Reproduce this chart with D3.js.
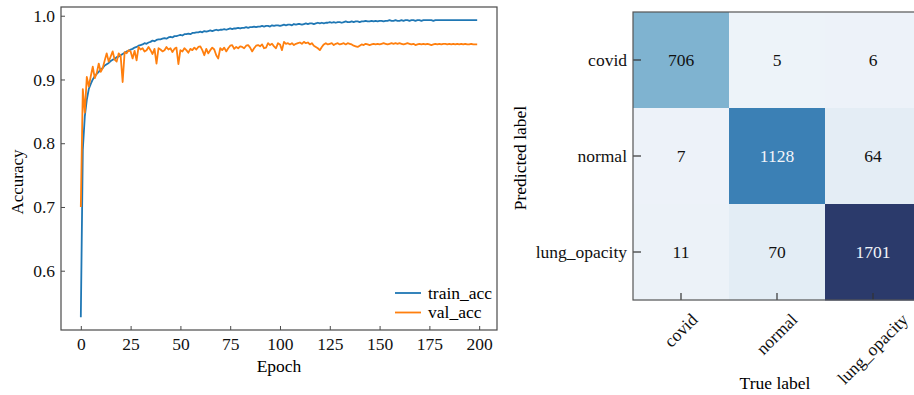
<!DOCTYPE html>
<html>
<head>
<meta charset="utf-8">
<script src="https://cdn.jsdelivr.net/npm/d3@7"></script>
<style>
  body { margin: 0; background: #fff; }
  svg { display: block; font-family: "Liberation Serif", "DejaVu Serif", serif; }
</style>
</head>
<body>
<div id="wrapper"></div>
<script>
// training history (epochs 0..199)
const trainAcc = [
  0.527, 0.790, 0.842, 0.868, 0.885, 0.893, 0.900, 0.905, 0.909, 0.912,
  0.916, 0.918, 0.922, 0.924, 0.926, 0.929, 0.931, 0.932, 0.935, 0.936,
  0.938, 0.940, 0.942, 0.944, 0.945, 0.947, 0.948, 0.950, 0.951, 0.953,
  0.954, 0.955, 0.957, 0.956, 0.958, 0.959, 0.961, 0.960, 0.962, 0.963,
  0.963, 0.964, 0.965, 0.964, 0.966, 0.967, 0.966, 0.968, 0.968, 0.969,
  0.970, 0.969, 0.971, 0.971, 0.972, 0.971, 0.973, 0.973, 0.974, 0.974,
  0.975, 0.974, 0.976, 0.975, 0.976, 0.977, 0.976, 0.977, 0.978, 0.977,
  0.978, 0.978, 0.979, 0.978, 0.979, 0.980, 0.979, 0.980, 0.980, 0.981,
  0.980, 0.981, 0.981, 0.982, 0.981, 0.982, 0.982, 0.983, 0.982, 0.983,
  0.983, 0.984, 0.983, 0.984, 0.984, 0.983, 0.985, 0.984, 0.985, 0.985,
  0.984, 0.985, 0.986, 0.985, 0.986, 0.986, 0.985, 0.987, 0.986, 0.987,
  0.987, 0.986, 0.987, 0.988, 0.987, 0.988, 0.988, 0.987, 0.988, 0.989,
  0.988, 0.989, 0.988, 0.989, 0.989, 0.990, 0.989, 0.990, 0.989, 0.990,
  0.990, 0.989, 0.990, 0.991, 0.990, 0.990, 0.991, 0.990, 0.991, 0.991,
  0.990, 0.991, 0.991, 0.992, 0.991, 0.991, 0.992, 0.991, 0.992, 0.991,
  0.992, 0.992, 0.991, 0.992, 0.992, 0.993, 0.992, 0.992, 0.993, 0.992,
  0.992, 0.993, 0.992, 0.993, 0.993, 0.992, 0.993, 0.993, 0.992, 0.993,
  0.993, 0.992, 0.993, 0.993, 0.993, 0.993, 0.993, 0.992, 0.993, 0.993,
  0.993, 0.993, 0.993, 0.993, 0.993, 0.993, 0.993, 0.993, 0.993, 0.993,
  0.993, 0.993, 0.993, 0.993, 0.993, 0.993, 0.993, 0.993, 0.993, 0.993,
];
const valAcc = [
  0.700, 0.885, 0.848, 0.904, 0.889, 0.905, 0.920, 0.902, 0.910, 0.925,
  0.912, 0.918, 0.930, 0.941, 0.928, 0.936, 0.944, 0.931, 0.928, 0.941,
  0.937, 0.896, 0.943, 0.941, 0.946, 0.944, 0.933, 0.945, 0.930, 0.951,
  0.947, 0.949, 0.944, 0.946, 0.951, 0.946, 0.940, 0.948, 0.925, 0.949,
  0.947, 0.944, 0.946, 0.951, 0.947, 0.949, 0.943, 0.948, 0.950, 0.924,
  0.946, 0.944, 0.949, 0.946, 0.942, 0.948, 0.946, 0.950, 0.947, 0.951,
  0.952, 0.946, 0.938, 0.948, 0.941, 0.946, 0.950, 0.947, 0.938, 0.933,
  0.949, 0.946, 0.950, 0.944, 0.949, 0.953, 0.954, 0.948, 0.951, 0.949,
  0.952, 0.951, 0.949, 0.953, 0.954, 0.950, 0.944, 0.949, 0.953, 0.954,
  0.952, 0.955, 0.949, 0.950, 0.957, 0.954, 0.956, 0.952, 0.949, 0.957,
  0.955, 0.946, 0.959, 0.956, 0.957, 0.955, 0.957, 0.954, 0.956, 0.957,
  0.958, 0.956, 0.959, 0.957, 0.958, 0.955, 0.957, 0.953, 0.951, 0.949,
  0.946, 0.951, 0.955, 0.957, 0.955, 0.956, 0.957, 0.954, 0.956, 0.957,
  0.955, 0.956, 0.957, 0.955, 0.957, 0.956, 0.955, 0.953, 0.952, 0.951,
  0.953, 0.955, 0.954, 0.956, 0.955, 0.954, 0.955, 0.956, 0.955, 0.956,
  0.955, 0.956, 0.957, 0.956, 0.955, 0.956, 0.957, 0.956, 0.957, 0.956,
  0.957, 0.956, 0.955, 0.956, 0.957, 0.956, 0.955, 0.956, 0.954, 0.955,
  0.956, 0.955, 0.956, 0.955, 0.956, 0.955, 0.954, 0.955, 0.956, 0.955,
  0.956, 0.955, 0.956, 0.956, 0.955, 0.956, 0.955, 0.956, 0.955, 0.956,
  0.955, 0.956, 0.955, 0.956, 0.955, 0.955, 0.956, 0.955, 0.955, 0.955,
];
const epochTicks = [0, 25, 50, 75, 100, 125, 150, 175, 200];
const accTicks = [0.6, 0.7, 0.8, 0.9, 1.0];
const seriesNames = ["train_acc", "val_acc"];

// confusion matrix: rows = predicted, columns = true
const classNames = ["covid", "normal", "lung_opacity"];
const matrixRows = [
  [706, 5, 6],
  [7, 1128, 64],
  [11, 70, 1701],
];

const fontSize = 17.5;
const spineColor = "#4a4a4a";
const colors = ["#1f77b4", "#ff7f0e"];

const svg = d3.select("#wrapper").append("svg")
  .attr("width", 914)
  .attr("height", 395);

// ---------- left: accuracy curves ----------
const left = { x: 61, y: 7, w: 436, h: 323 };
const g1 = svg.append("g").attr("transform", `translate(${left.x},${left.y})`);

const xScale = d3.scaleLinear().domain([-9.95, 208.95]).range([0, left.w]);
const yScale = d3.scaleLinear().domain([0.507, 1.0137]).range([left.h, 0]);

const line = d3.line()
  .x((d, i) => xScale(i))
  .y((d) => yScale(d));

[trainAcc, valAcc].forEach((s, k) => {
  g1.append("path")
    .datum(s)
    .attr("fill", "none")
    .attr("stroke", colors[k])
    .attr("stroke-width", 1.8)
    .attr("stroke-linejoin", "round")
    .attr("d", line);
});

const xAxis = g1.append("g")
  .attr("transform", `translate(0,${left.h})`)
  .call(d3.axisBottom(xScale).tickValues(epochTicks).tickSizeInner(-4).tickSizeOuter(0).tickPadding(8));
const yAxis = g1.append("g")
  .call(d3.axisLeft(yScale).tickValues(accTicks).tickFormat(d3.format(".1f"))
    .tickSizeInner(-4).tickSizeOuter(0).tickPadding(6));

[xAxis, yAxis].forEach((a) => {
  a.select(".domain").remove();
  a.selectAll("line").attr("stroke", spineColor);
  a.selectAll("text")
    .attr("fill", "#111")
    .style("font-family", "Liberation Serif")
    .style("font-size", fontSize + "px");
});

g1.append("rect")
  .attr("width", left.w).attr("height", left.h)
  .attr("fill", "none").attr("stroke", spineColor).attr("stroke-width", 1.2);

g1.append("text")
  .attr("x", left.w / 2).attr("y", 365)
  .attr("text-anchor", "middle")
  .style("font-size", fontSize + "px")
  .text("Epoch");

svg.append("text")
  .attr("transform", "translate(23,182) rotate(-90)")
  .attr("text-anchor", "middle")
  .style("font-size", "17px")
  .text("Accuracy");

// legend, no frame
const legend = g1.append("g").attr("transform", `translate(${395 - left.x},${293 - left.y})`);
seriesNames.forEach((name, k) => {
  const row = legend.append("g").attr("transform", `translate(0,${k * 19.5})`);
  row.append("line").attr("x1", 0).attr("x2", 26)
    .attr("stroke", colors[k]).attr("stroke-width", 1.8);
  row.append("text").attr("x", 33).attr("dy", "0.32em")
    .style("font-size", fontSize + "px")
    .text(name);
});

// ---------- right: confusion matrix ----------
const cm = { x: 633, y: 12, size: 288 };
const g2 = svg.append("g").attr("transform", `translate(${cm.x},${cm.y})`);

const colScale = d3.scaleBand().domain(classNames).range([0, cm.size]);
const rowScale = d3.scaleBand().domain(classNames).range([0, cm.size]);
const color = d3.scaleLinear()
  .domain([0, 706, 1128, 1701])
  .range(["#eef3f9", "#7fb3d0", "#3b80b5", "#2b3a6b"]);

const cells = [];
matrixRows.forEach((r, i) => r.forEach((v, j) => cells.push({ row: classNames[i], col: classNames[j], v })));

g2.selectAll("rect.cell")
  .data(cells)
  .join("rect")
  .attr("class", "cell")
  .attr("x", (d) => colScale(d.col))
  .attr("y", (d) => rowScale(d.row))
  .attr("width", colScale.bandwidth() + 0.5)
  .attr("height", rowScale.bandwidth() + 0.5)
  .attr("fill", (d) => color(d.v));

g2.selectAll("text.val")
  .data(cells)
  .join("text")
  .attr("class", "val")
  .attr("x", (d) => colScale(d.col) + colScale.bandwidth() / 2)
  .attr("y", (d) => rowScale(d.row) + rowScale.bandwidth() / 2)
  .attr("text-anchor", "middle")
  .attr("dy", "0.33em")
  .attr("fill", (d) => (d.v > 850 ? "#f2f5f9" : "#111"))
  .style("font-size", fontSize + "px")
  .text((d) => d.v);

const cmY = g2.append("g")
  .call(d3.axisLeft(rowScale).tickSizeInner(-8).tickSizeOuter(0).tickPadding(6));
const cmX = g2.append("g")
  .attr("transform", `translate(0,${cm.size})`)
  .call(d3.axisBottom(colScale).tickSizeInner(-7).tickSizeOuter(0).tickPadding(8));

[cmX, cmY].forEach((a) => {
  a.select(".domain").remove();
  a.selectAll("line").attr("stroke", "#333").attr("stroke-width", 1.2);
  a.selectAll("text")
    .attr("fill", "#111")
    .style("font-family", "Liberation Serif")
    .style("font-size", fontSize + "px");
});

// rotated bottom labels, centred under each column like rotation=45
cmX.selectAll(".tick text").each(function (d) {
  const t = d3.select(this);
  const w = this.getComputedTextLength();
  const half = ((w + fontSize * 1.1) * Math.SQRT1_2) / 2;
  const cy = 10 + half;
  t.attr("x", 0).attr("y", cy).attr("dy", "0.32em")
    .attr("text-anchor", "middle")
    .attr("transform", `rotate(-45,0,${cy})`);
});

g2.append("rect")
  .attr("width", cm.size).attr("height", cm.size)
  .attr("fill", "none").attr("stroke", "#555").attr("stroke-width", 1.2);

svg.append("text")
  .attr("transform", "translate(526,158) rotate(-90)")
  .attr("text-anchor", "middle")
  .style("font-size", fontSize + "px")
  .text("Predicted label");

svg.append("text")
  .attr("x", 775).attr("y", 389)
  .attr("text-anchor", "middle")
  .style("font-size", fontSize + "px")
  .text("True label");
</script>
</body>
</html>
